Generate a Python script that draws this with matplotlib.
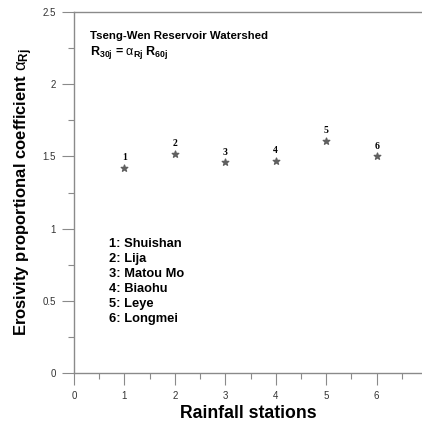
import matplotlib
matplotlib.use("Agg")
import matplotlib.pyplot as plt

plt.rcParams['font.family'] = ['Liberation Sans', 'DejaVu Sans']
plt.rcParams['mathtext.fontset'] = 'custom'
plt.rcParams['mathtext.rm'] = 'Liberation Sans'
plt.rcParams['mathtext.it'] = 'Liberation Sans'
plt.rcParams['mathtext.bf'] = 'Liberation Sans:bold'

# station index and erosivity proportional coefficient
stations = [1, 2, 3, 4, 5, 6]
alpha = [1.42, 1.52, 1.46, 1.47, 1.61, 1.50]
station_names = ["Shuishan", "Lija", "Matou Mo", "Biaohu", "Leye", "Longmei"]

fig = plt.figure(figsize=(4.22, 4.21), dpi=100)
ax = fig.add_axes([74 / 422, 48 / 421, 348 / 422, 361 / 421])

gray = "#8a8a8a"
ax.scatter(stations, alpha, marker="*", s=24, color="#606060", zorder=3)
for s, a in zip(stations, alpha):
    ax.annotate(str(s), (s, a), xytext=(0, 4), textcoords="offset points",
                ha="center", va="bottom", fontsize=7, fontweight="bold",
                family="Liberation Serif")

ax.set_xlim(0, 6.9)
ax.set_ylim(0, 2.5)
ax.set_xticks(range(0, 7))
ax.set_xticks([0.5 + i for i in range(7)], minor=True)
ax.set_yticks([0, 0.5, 1, 1.5, 2, 2.5])
ax.set_yticklabels(["0", "0.5", "1", "1.5", "2", "2.5"])
ax.set_yticks([0.25, 0.75, 1.25, 1.75, 2.25], minor=True)

for side in ["left", "top", "bottom"]:
    ax.spines[side].set_color(gray)
    ax.spines[side].set_linewidth(1.0)
ax.spines["right"].set_visible(False)
ax.tick_params(which="major", length=8.6, width=0.8, color=gray,
               labelsize=7, labelcolor="#333333", pad=4.5)
ax.tick_params(which="minor", length=4.3, width=0.8, color=gray)

ax.set_xlabel("Rainfall stations", fontsize=12.7, fontweight="bold")
ax.xaxis.label.set_va("baseline")
ax.xaxis.set_label_coords(0.5, -45 / 361)
ax.set_ylabel(r"Erosivity proportional coefficient $\alpha_{\mathregular{Rj}}$",
              fontsize=12, fontweight="bold")
ax.yaxis.set_label_coords(-39 / 348, 0.5)

ax.text(0.317, 2.313, "Tseng-Wen Reservoir Watershed", fontsize=8.2,
        fontweight="bold", va="baseline")
ax.text(0.317, 2.202,
        r"R$_{\mathregular{30j}}$ = $\alpha_{\mathregular{Rj}}$ R$_{\mathregular{60j}}$",
        fontsize=9, fontweight="bold", va="baseline")

for i, (s, n) in enumerate(zip(stations, station_names)):
    ax.text(0.70, 0.873 - i * 0.1039, f"{s}: {n}", fontsize=9.3,
            fontweight="bold", va="baseline")

fig.savefig("out.png", dpi=100)
